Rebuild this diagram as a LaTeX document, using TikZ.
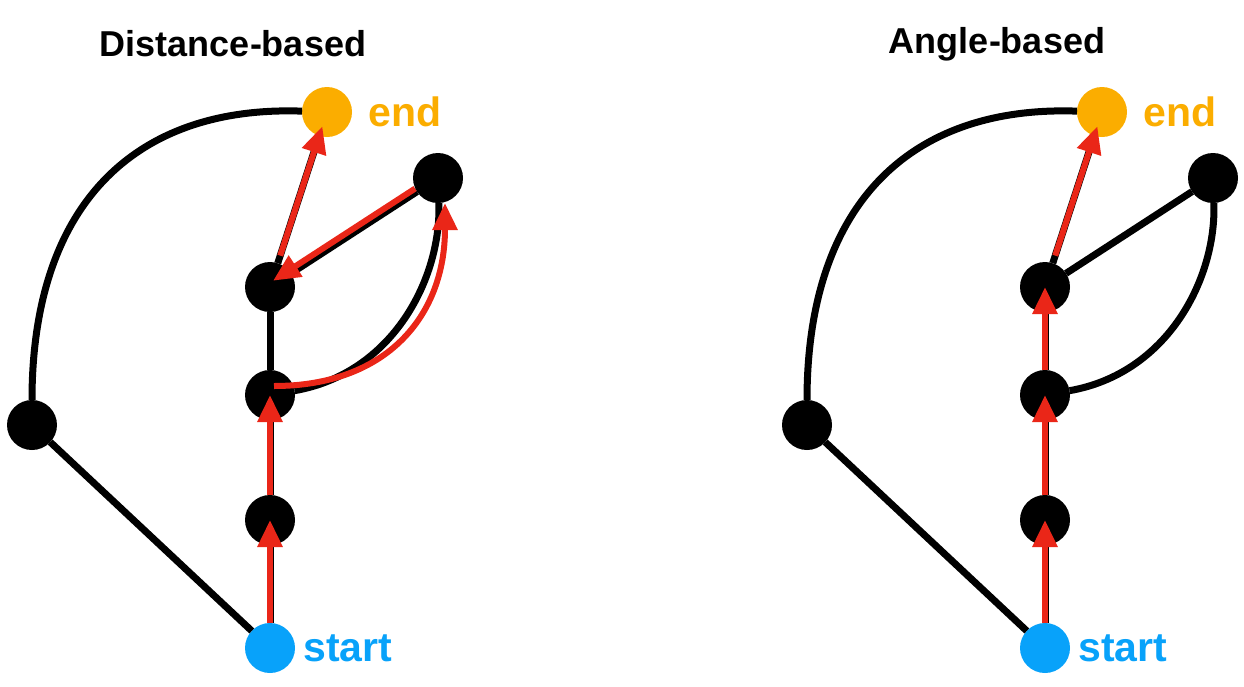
\documentclass[tikz,border=0pt]{standalone}
\usepackage{fontspec}
\setmainfont{Liberation Sans}
\usetikzlibrary{arrows.meta,positioning,calc}
\definecolor{sblue}{HTML}{08A2FA}
\definecolor{gold}{HTML}{FBAD00}
\definecolor{rred}{HTML}{EA2618}
\tikzset{
  dot/.style={circle,fill=#1,minimum size=50pt,inner sep=0pt,outer sep=0pt},
  dot/.default=black,
  edge/.style={line width=7pt,color=black},
  rarr/.style={-{Triangle[length=27pt,width=24pt]},line width=6pt,color=rred},
  ttl/.style={font=\fontsize{36}{40}\selectfont\bfseries,inner sep=0pt},
  lbl/.style={font=\fontsize{41}{45}\selectfont\bfseries,text=#1,inner sep=0pt},
}
\begin{document}
\begin{tikzpicture}[x=1pt,y=1pt]
  \useasboundingbox (0,0) rectangle (1244,-686);

  \node[ttl] (ttlL) at (233,-44) {Distance-based};
  \node[ttl] (ttlR) at (997,-44) {Angle-based};

  % same graph in both panels
  \foreach \dx/\p in {0/L,775/R}{
    \begin{scope}[shift={(\dx,0)},name prefix/.expanded=\p-]
      \node[dot=sblue] (start) at (270,-648) {};
      \node[dot] (n1) at (270,-520) {};
      \node[dot] (n2) at (270,-395) {};
      \node[dot] (n3) at (270,-287) {};
      \node[dot] (n4) at (438,-178) {};
      \node[dot=gold] (goal) at (327,-112) {};
      \node[dot] (side) at (32,-425) {};
      \node[lbl=sblue,right=8pt of start] (starttxt) {start};
      \node[lbl=gold,right=16pt of goal] (goaltxt) {end};

      \draw[edge] (start) -- (side);
      \draw[edge] (side) to[out=90,in=178,looseness=1.2] (goal);
      \draw[edge] (start) -- (n1) -- (n2) -- (n3);
      \draw[edge] (n3) -- (goal);
      \draw[edge] (n3) -- (n4);
      \draw[edge] (n2) to[out=10,in=-88] (n4);
    \end{scope}}

  % distance-based route
  \draw[rarr] (L-start) -- (L-n1.center);
  \draw[rarr] (L-n1) -- (L-n2.center);
  \draw[rarr] ([xshift=4pt,yshift=9pt]L-n2.center) to[out=0,in=-90,looseness=1.15]
    ([xshift=7pt]L-n4.south);
  \draw[rarr,shorten <=25pt,shorten >=6pt]
    ([shift={(-2,3)}]L-n4.center) -- ([shift={(-2,3)}]L-n3.center);
  \draw[rarr,shorten <=8pt,shorten >=15pt] (L-n3) -- (L-goal.center);

  % angle-based route
  \draw[rarr] (R-start) -- (R-n1.center);
  \draw[rarr] (R-n1) -- (R-n2.center);
  \draw[rarr] (R-n2) -- (R-n3.center);
  \draw[rarr,shorten <=8pt,shorten >=15pt] (R-n3) -- (R-goal.center);
\end{tikzpicture}
\end{document}
